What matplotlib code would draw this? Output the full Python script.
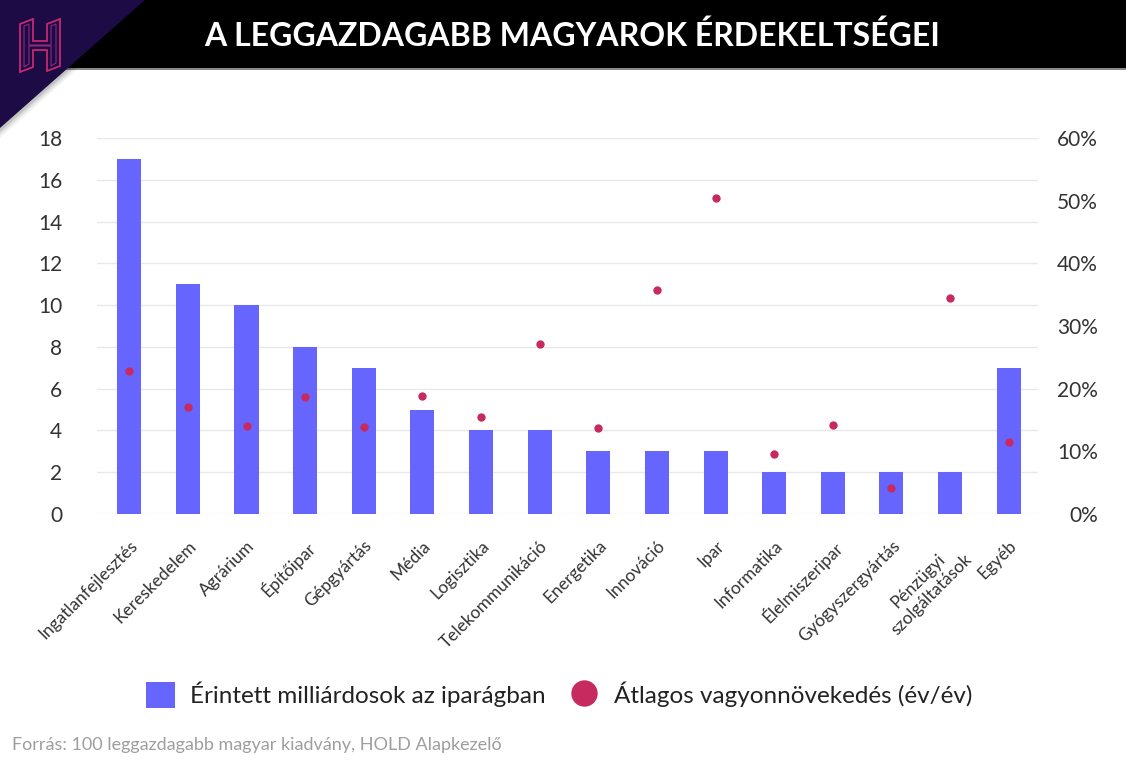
import numpy as np
import matplotlib
matplotlib.use('Agg')
import matplotlib.pyplot as plt
from matplotlib.patches import Polygon, Rectangle, Patch
from matplotlib.lines import Line2D
from matplotlib.ticker import FuncFormatter

plt.rcParams['font.family'] = ['Lato', 'DejaVu Sans']

categories = ['Ingatlanfejlesztés', 'Kereskedelem', 'Agrárium', 'Építőipar', 'Gépgyártás',
              'Média', 'Logisztika', 'Telekommunikáció', 'Energetika', 'Innováció', 'Ipar',
              'Informatika', 'Élelmiszeripar', 'Gyógyszergyártás', 'Pénzügyi\nszolgáltatások',
              'Egyéb']
billionaires = [17, 11, 10, 8, 7, 5, 4, 4, 3, 3, 3, 2, 2, 2, 2, 7]
growth = [22.8, 17.0, 14.1, 18.6, 13.9, 18.8, 15.4, 27.1, 13.7, 35.7, 50.5, 9.5, 14.2, 4.2, 34.5, 11.5]
left_ticks = [0, 2, 4, 6, 8, 10, 12, 14, 16, 18]
right_ticks = [0, 10, 20, 30, 40, 50, 60]

bar_color = '#6666ff'
dot_color = '#c72a5f'
W, H = 1126, 771

def fx(px):
    return px / W

def fy(py):
    return 1 - py / H

fig = plt.figure(figsize=(W / 100, H / 100), dpi=100)
fig.patch.set_facecolor('white')

# header band, corner triangle and logo
fig.patches.append(Rectangle((0, fy(70)), 1, 70 / H, transform=fig.transFigure,
                             facecolor='#8a8a8a', edgecolor='none', zorder=1))
fig.patches.append(Rectangle((0, fy(68)), 1, 68 / H, transform=fig.transFigure,
                             facecolor='black', edgecolor='none', zorder=2))
for i, a in enumerate([0.05, 0.08, 0.12]):
    off = 10 - i * 3
    fig.patches.append(Polygon([(fx(0), fy(0)), (fx(145 + off), fy(0)), (fx(0), fy(128 + off))],
                               closed=True, transform=fig.transFigure, facecolor='black',
                               alpha=a, edgecolor='none', zorder=3))
fig.patches.append(Polygon([(fx(0), fy(0)), (fx(145), fy(0)), (fx(0), fy(128))], closed=True,
                           transform=fig.transFigure, facecolor='#1d0b45', edgecolor='none', zorder=4))
logo = [(20, 24), (33, 19), (33, 41), (47, 41), (47, 24), (60, 19), (60, 66), (47, 71), (47, 50),
        (33, 50), (33, 67), (20, 72)]
fig.patches.append(Polygon([(fx(x), fy(y)) for x, y in logo], closed=True, transform=fig.transFigure,
                           facecolor='none', edgecolor='#c42a72', lw=1.3, zorder=5))
logo_in = [(24, 26), (29, 24), (29, 45), (51, 45), (51, 26), (56, 24), (56, 63), (51, 66), (51, 46),
           (29, 46), (29, 64), (24, 67)]
fig.patches.append(Polygon([(fx(x), fy(y)) for x, y in logo_in], closed=True, transform=fig.transFigure,
                           facecolor='none', edgecolor='#8d2a7a', lw=0.8, zorder=5))

fig.text(fx(572), fy(36), 'A LEGGAZDAGABB MAGYAROK ÉRDEKELTSÉGEI', ha='center', va='center',
         color='white', fontsize=23, fontweight='bold', zorder=6)

ax = fig.add_axes([fx(97), fy(514), fx(1038) - fx(97), fy(138) - fy(514)])
x = np.arange(len(categories))
ax.bar(x, billionaires, width=0.41, color=bar_color, zorder=2)
ax.set_xlim(-0.55, len(categories) - 0.5)
ax.set_ylim(0, 18)
ax.set_yticks(left_ticks)
ax.grid(axis='y', color='#e8e8e8', lw=1, zorder=0)
ax.set_axisbelow(True)
for s in ax.spines.values():
    s.set_visible(False)
ax.tick_params(axis='y', length=0, pad=25, labelsize=15, labelcolor='#333333')
ax.set_xticks(x)
ax.set_xticklabels(categories, rotation=45, ha='right', rotation_mode='anchor',
                   fontsize=12.5, color='#333333', multialignment='center')
ax.tick_params(axis='x', length=0, pad=17)

ax2 = ax.twinx()
ax2.plot(x, growth, 'o', color=dot_color, ms=6, mec='none', zorder=3)
ax2.set_ylim(0, 60)
ax2.set_yticks(right_ticks)
ax2.yaxis.set_major_formatter(FuncFormatter(lambda v, p: f'{int(v)}%'))
for s in ax2.spines.values():
    s.set_visible(False)
ax2.tick_params(axis='y', length=0, pad=43, labelsize=15, labelcolor='#333333')
for lab in ax2.get_yticklabels():
    lab.set_horizontalalignment('right')

handles = [Patch(facecolor=bar_color, edgecolor='none'),
           Line2D([], [], marker='o', ls='none', color=dot_color, ms=19, mec='none')]
fig.legend(handles, ['Érintett milliárdosok az iparágban', 'Átlagos vagyonnövekedés (év/év)'],
           loc='center', bbox_to_anchor=(fx(559), fy(695)), ncol=2, frameon=False,
           fontsize=17.5, handlelength=1.2, handleheight=1.25, handletextpad=0.6,
           columnspacing=1.0, labelcolor='#222222')

fig.text(fx(12), fy(745), 'Forrás: 100 leggazdagabb magyar kiadvány, HOLD Alapkezelő',
         ha='left', va='center', fontsize=13, color='#9e9e9e')

fig.savefig('out.png', dpi=100)
